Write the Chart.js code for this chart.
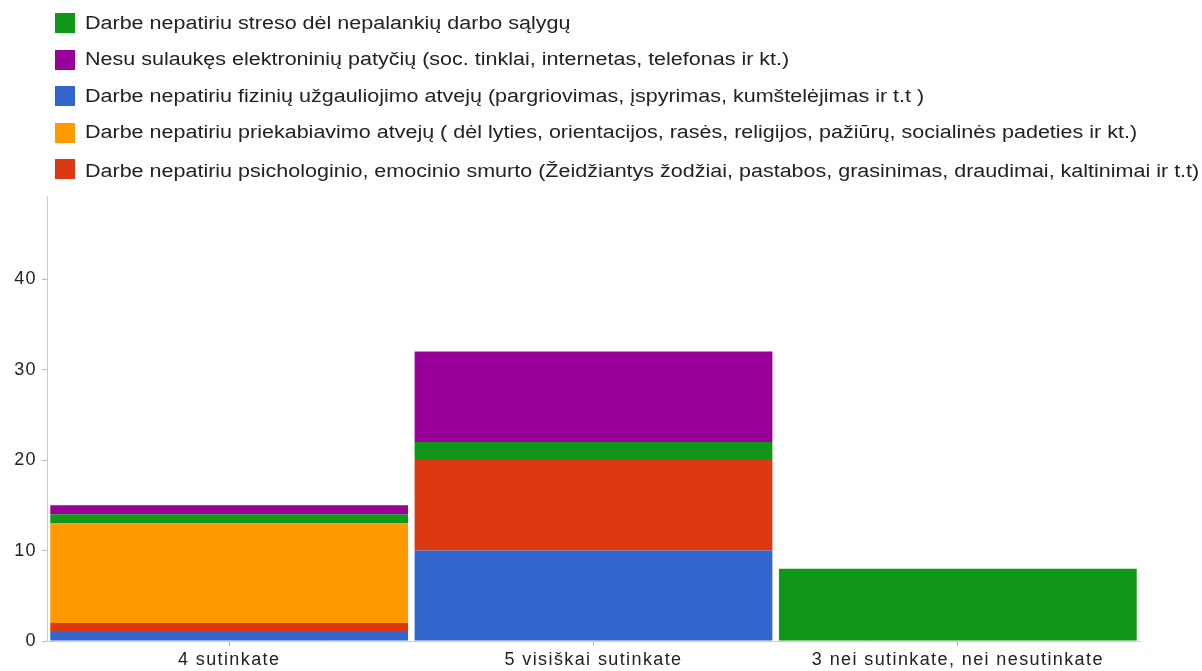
<!DOCTYPE html>
<html>
<head>
<meta charset="utf-8">
<script src="https://cdn.jsdelivr.net/npm/chart.js@4.4.0/dist/chart.umd.min.js"></script>
<style>
  html, body { margin: 0; padding: 0; background: #fff; }
  #wrap { position: relative; width: 1202px; height: 671px; }
  #chart { position: absolute; left: 0; top: 0; }
  #legend { position: absolute; left: 55px; top: 13px; font-family: "Liberation Sans", Arial, sans-serif; font-size: 18px; color: #222; }
  .item { display: flex; align-items: center; height: 20px; margin-bottom: 16.5px; white-space: nowrap; }
  .box { width: 20px; height: 20px; margin-right: 10px; flex: none; }
  .txt { display: inline-block; transform: scaleX(1.195); transform-origin: left center; }
  .item.last .txt { position: relative; top: 2px; }
</style>
</head>
<body>
<div id="wrap">
  <canvas id="chart" width="1202" height="671"></canvas>
  <div id="legend"></div>
</div>
<script>
const categories = ['4 sutinkate', '5 visiškai sutinkate', '3 nei sutinkate, nei nesutinkate'];

// stacked bottom to top
const fizinis = [1, 10, 0];
const psichologinis = [1, 10, 0];
const priekabiavimas = [11, 0, 0];
const stresas = [1, 2, 8];
const elektroninis = [1, 10, 0];

const yTicks = [0, 10, 20, 30, 40];
const yMax = 49.2;

const datasets = [
  { label: 'Darbe nepatiriu fizinių užgauliojimo atvejų (pargriovimas, įspyrimas, kumštelėjimas ir t.t )', data: fizinis, backgroundColor: '#3366cc' },
  { label: 'Darbe nepatiriu psichologinio, emocinio smurto (Žeidžiantys žodžiai, pastabos, grasinimas, draudimai, kaltinimai ir t.t)', data: psichologinis, backgroundColor: '#dc3912' },
  { label: 'Darbe nepatiriu priekabiavimo atvejų ( dėl lyties, orientacijos, rasės, religijos, pažiūrų, socialinės padeties ir kt.)', data: priekabiavimas, backgroundColor: '#ff9900' },
  { label: 'Darbe nepatiriu streso dėl nepalankių darbo sąlygų', data: stresas, backgroundColor: '#109618' },
  { label: 'Nesu sulaukęs elektroninių patyčių (soc. tinklai, internetas, telefonas ir kt.)', data: elektroninis, backgroundColor: '#990099' }
];
// order the legend is listed in
const legendOrder = [3, 4, 0, 2, 1];

const font = { family: '"Liberation Sans", Arial, sans-serif', size: 18 };

// the reference text is set a bit wider than Arial
const wideText = {
  id: 'wideText',
  beforeLayout: c => { c.ctx.letterSpacing = '1.4px'; },
  beforeDraw: c => { c.ctx.letterSpacing = '1.4px'; }
};

const chart = new Chart(document.getElementById('chart'), {
  type: 'bar',
  data: {
    labels: categories,
    datasets: datasets.map(d => Object.assign({ borderWidth: 0, barPercentage: 0.982, categoryPercentage: 1 }, d))
  },
  options: {
    responsive: false,
    animation: false,
    layout: { padding: { top: 196, right: 62, left: 0, bottom: 0 } },
    plugins: { legend: { display: false }, tooltip: { enabled: false } },
    scales: {
      x: {
        stacked: true,
        grid: { display: true, drawOnChartArea: false, offset: false, tickLength: 5, color: '#bbb' },
        border: { color: '#ccc' },
        ticks: { color: '#222', font: font, padding: 3 },
        afterFit: s => { s.height = 30; }
      },
      y: {
        stacked: true,
        min: 0,
        max: yMax,
        grid: { display: true, drawOnChartArea: false, tickLength: 5, color: '#bbb' },
        border: { color: '#ccc' },
        ticks: { color: '#222', font: font, padding: 5, stepSize: 10 },
        afterBuildTicks: s => { s.ticks = yTicks.map(v => ({ value: v })); },
        afterFit: s => { s.width = 47; }
      }
    }
  },
  plugins: [wideText]
});

const legend = document.getElementById('legend');
legendOrder.forEach((i, n) => {
  const row = document.createElement('div');
  row.className = 'item' + (n === legendOrder.length - 1 ? ' last' : '');
  const box = document.createElement('span');
  box.className = 'box';
  box.style.background = datasets[i].backgroundColor;
  const txt = document.createElement('span');
  txt.className = 'txt';
  txt.textContent = datasets[i].label;
  row.appendChild(box);
  row.appendChild(txt);
  legend.appendChild(row);
});
</script>
</body>
</html>
